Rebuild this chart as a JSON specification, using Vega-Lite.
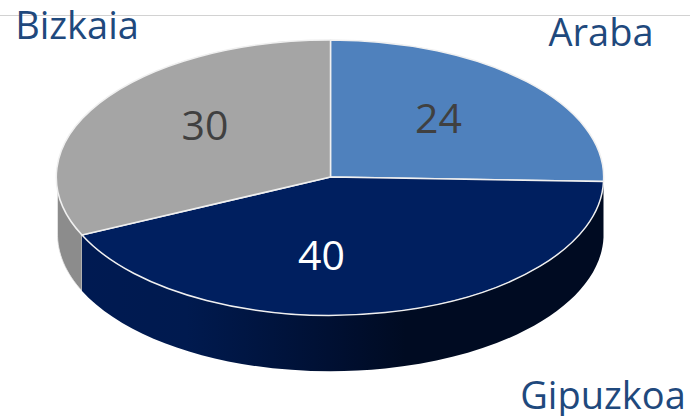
{
  "$schema": "https://vega.github.io/schema/vega-lite/v6.json",
  "width": 690,
  "height": 416,
  "padding": 0,
  "autosize": {"type": "none"},
  "background": "white",
  "view": {"stroke": null},
  "data": {"values": [
    {"name": "Araba", "value": 24},
    {"name": "Gipuzkoa", "value": 40},
    {"name": "Bizkaia", "value": 30}
  ]},
  "layer": [
    {
      "data": {"values": [{"line": 1}]},
      "mark": {"type": "rule", "color": "#d2d2d2", "strokeWidth": 1},
      "encoding": {
        "y": {"field": "line", "type": "quantitative", "axis": null, "scale": {"domain": [0, 1], "range": [416, 15.5], "nice": false}}
      }
    },
    {
      "transform": [{"filter": "datum.name === 'Bizkaia'"}],
      "mark": {"type": "point", "filled": true, "opacity": 1, "size": 4, "fill": "#8c8c8c", "stroke": "#e8e8e8", "strokeWidth": 0.8,
        "shape": "M-263 27 A273 137 0 0 1 -287.5 -31 L-287.5 25 A273 137 0 0 0 -263 83 Z"},
      "encoding": {}
    },
    {
      "transform": [{"filter": "datum.name === 'Gipuzkoa'"}],
      "mark": {"type": "point", "filled": true, "opacity": 1, "size": 4, "strokeWidth": 0,
        "fill": {"gradient": "linear", "x1": 0, "y1": 0, "x2": 1, "y2": 0, "stops": [
          {"offset": 0, "color": "#001a52"},
          {"offset": 0.2, "color": "#001a4f"},
          {"offset": 0.5, "color": "#000f30"},
          {"offset": 0.62, "color": "#000b22"},
          {"offset": 1, "color": "#000b22"}
        ]},
        "shape": "M258.5 -26.5 A273 137 0 0 1 -263 27 L-263 83 A273 137 0 0 0 258.5 29.5 Z"},
      "encoding": {}
    },
    {
      "mark": {"type": "point", "filled": true, "opacity": 1, "size": 4, "stroke": "#f0f0f0", "strokeWidth": 1.5},
      "encoding": {
        "shape": {"field": "name", "type": "nominal", "legend": null, "scale": {
          "domain": ["Araba", "Gipuzkoa", "Bizkaia"],
          "range": [
            "M-14.5 -31 L-14.5 -168 A273 137 0 0 1 258.5 -26.5 Z",
            "M-14.5 -31 L258.5 -26.5 A273 137 0 0 1 -263 27 Z",
            "M-14.5 -31 L-263 27 A273 137 0 0 1 -14.5 -168 Z"
          ]}},
        "fill": {"field": "name", "type": "nominal", "legend": null, "scale": {
          "domain": ["Araba", "Gipuzkoa", "Bizkaia"],
          "range": ["#4f81bd", "#001f5f", "#a5a5a5"]}}
      }
    },
    {
      "mark": {"type": "text", "font": "Open Sans", "fontSize": 41, "align": "center", "baseline": "alphabetic"},
      "encoding": {
        "text": {"field": "value", "type": "quantitative"},
        "x": {"field": "value", "type": "quantitative", "axis": null, "scale": {"domain": [24, 30, 40], "range": [438.5, 205, 321.5], "nice": false, "zero": false}},
        "y": {"field": "value", "type": "quantitative", "axis": null, "scale": {"domain": [24, 30, 40], "range": [133, 140, 270], "nice": false, "zero": false}},
        "color": {"field": "name", "type": "nominal", "legend": null, "scale": {"domain": ["Araba", "Gipuzkoa", "Bizkaia"], "range": ["#404040", "#ffffff", "#404040"]}}
      }
    },
    {
      "mark": {"type": "text", "font": "Open Sans", "fontSize": 38, "align": "center", "baseline": "alphabetic", "color": "#1f497d"},
      "encoding": {
        "text": {"field": "name", "type": "nominal"},
        "x": {"field": "value", "type": "quantitative", "axis": null, "scale": {"domain": [24, 30, 40], "range": [601, 77, 603], "nice": false, "zero": false}},
        "y": {"field": "value", "type": "quantitative", "axis": null, "scale": {"domain": [24, 30, 40], "range": [46, 39, 409], "nice": false, "zero": false}}
      }
    }
  ],
  "resolve": {"scale": {"x": "independent", "y": "independent", "color": "independent", "shape": "independent", "fill": "independent"}}
}
